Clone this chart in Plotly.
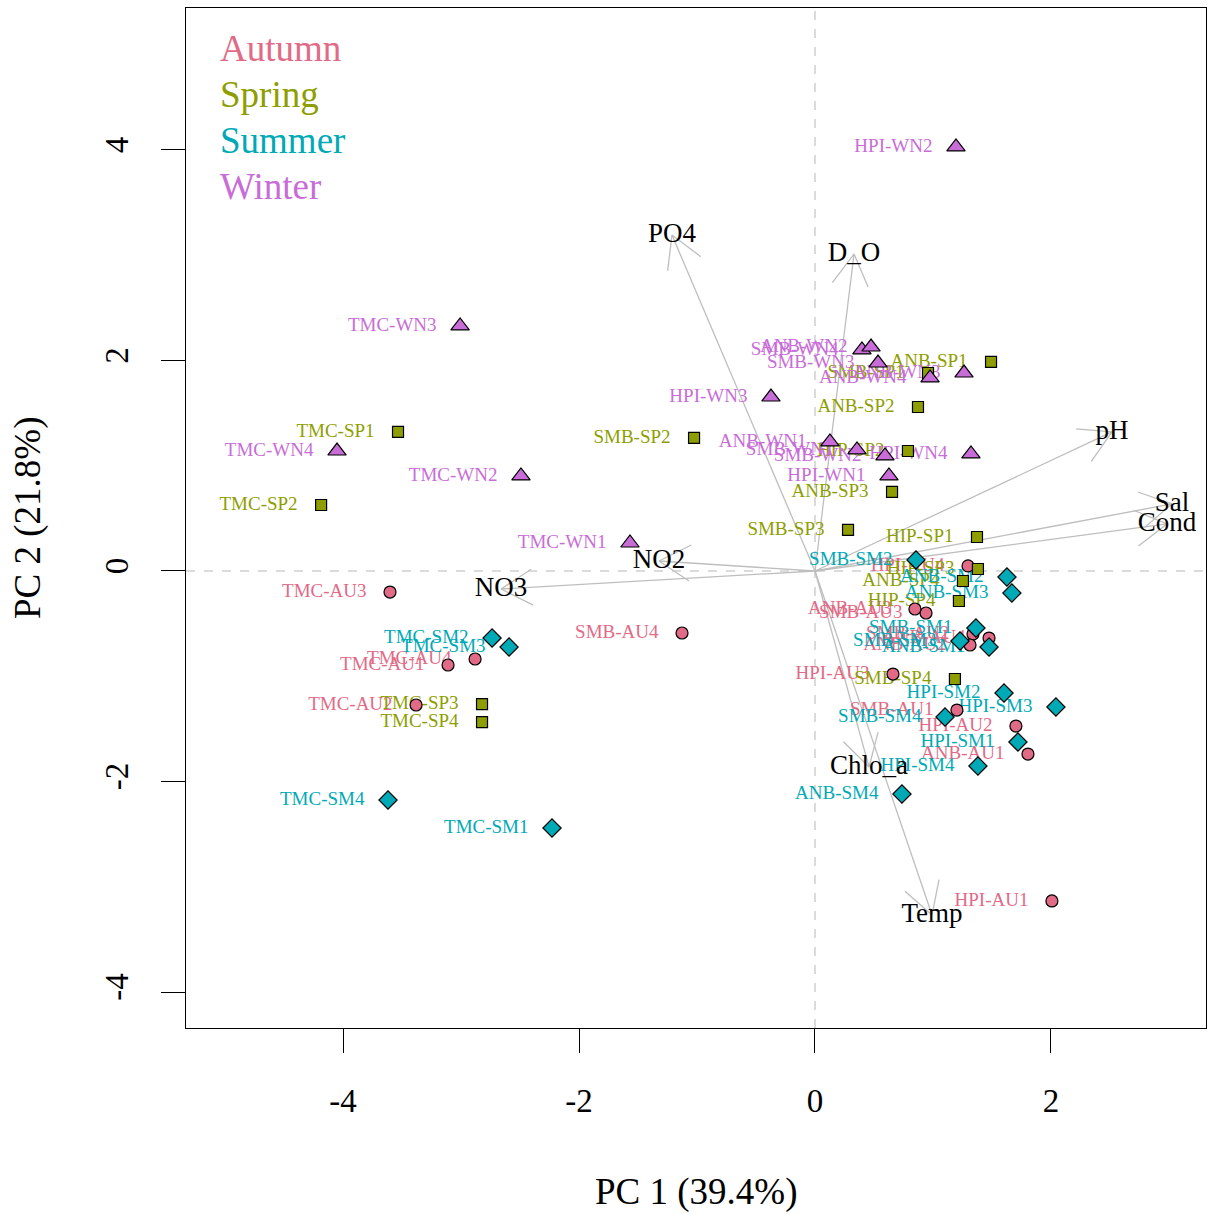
import math
import plotly.graph_objects as go

# ---- sample scores on the first two principal components ----
autumn_labels = ["TMC-AU1", "TMC-AU2", "TMC-AU3", "TMC-AU4", "SMB-AU1", "SMB-AU2", "SMB-AU3", "SMB-AU4",
                 "ANB-AU1", "ANB-AU2", "ANB-AU3", "ANB-AU4", "HPI-AU1", "HPI-AU2", "HPI-AU3", "HPI-AU4"]
autumn_pc1 = [-3.110, -3.381, -3.602, -2.881, 1.203, 1.339, 0.941, -1.127,
              1.805, 1.314, 0.847, 1.475, 2.008, 1.703, 0.661, 1.297]
autumn_pc2 = [-0.893, -1.273, -0.200, -0.836, -1.321, -0.599, -0.399, -0.589,
              -1.739, -0.703, -0.361, -0.637, -3.135, -1.473, -0.979, 0.048]

spring_labels = ["TMC-SP1", "TMC-SP2", "TMC-SP3", "TMC-SP4", "SMB-SP1", "SMB-SP2", "SMB-SP3", "SMB-SP4",
                 "ANB-SP1", "ANB-SP2", "ANB-SP3", "ANB-SP4", "HIP-SP1", "HIP-SP2", "HIP-SP3", "HIP-SP4"]
spring_pc1 = [-3.534, -4.186, -2.822, -2.822, 0.958, -1.025, 0.280, 1.186,
              1.492, 0.873, 0.653, 1.254, 1.373, 0.788, 1.381, 1.220]
spring_pc2 = [1.321, 0.627, -1.264, -1.435, 1.881, 1.264, 0.390, -1.026,
              1.986, 1.558, 0.751, -0.095, 0.323, 1.140, 0.019, -0.285]

summer_labels = ["TMC-SM1", "TMC-SM2", "TMC-SM3", "TMC-SM4", "SMB-SM1", "SMB-SM2", "SMB-SM3", "SMB-SM4",
                 "ANB-SM1", "ANB-SM2", "ANB-SM3", "ANB-SM4", "HPI-SM1", "HPI-SM2", "HPI-SM3", "HPI-SM4"]
summer_pc1 = [-2.229, -2.737, -2.593, -3.619, 1.364, 0.856, 1.229, 1.102,
              1.475, 1.627, 1.669, 0.737, 1.720, 1.602, 2.042, 1.381]
summer_pc2 = [-2.442, -0.637, -0.722, -2.176, -0.542, 0.105, -0.665, -1.387,
              -0.722, -0.057, -0.209, -2.119, -1.625, -1.159, -1.292, -1.853]

winter_labels = ["TMC-WN1", "TMC-WN2", "TMC-WN3", "TMC-WN4", "SMB-WN1", "SMB-WN2", "SMB-WN3", "SMB-WN4",
                 "ANB-WN1", "ANB-WN2", "ANB-WN3", "ANB-WN4", "HPI-WN1", "HPI-WN2", "HPI-WN3", "HPI-WN4"]
winter_pc1 = [-1.568, -2.492, -3.008, -4.051, 0.356, 0.593, 0.534, 0.398,
              0.127, 0.475, 1.263, 0.975, 0.627, 1.195, -0.373, 1.322]
winter_pc2 = [0.266, 0.903, 2.328, 1.140, 1.150, 1.093, 1.976, 2.100,
              1.226, 2.128, 1.881, 1.834, 0.903, 4.029, 1.653, 1.112]

# ---- variable loadings ----
var_names = ["PO4", "D_O", "pH", "Sal", "Cond", "NO2", "NO3", "Chlo_a", "Temp"]
var_pc1 = [-1.212, 0.331, 2.517, 3.025, 2.983, -1.322, -2.661, 0.458, 0.992]
var_pc2 = [3.192, 3.012, 1.321, 0.637, 0.447, 0.095, -0.171, -1.862, -3.268]

season_names = ["Autumn", "Spring", "Summer", "Winter"]
season_colors = ["#E16A86", "#8E9E00", "#00A9B6", "#C86DD7"]
season_symbols = ["circle", "square", "diamond", "triangle-up"]
season_sizes = [12, 11, 14, 16]

seasons = [
    (autumn_labels, autumn_pc1, autumn_pc2),
    (spring_labels, spring_pc1, spring_pc2),
    (summer_labels, summer_pc1, summer_pc2),
    (winter_labels, winter_pc1, winter_pc2),
]

XR = [-5.331, 3.314]
YR = [-4.342, 5.349]
W, H = 1208, 1214
ML, MR, MT, MB = 186, 2, 8, 186
PW, PH = W - ML - MR, H - MT - MB
SERIF = "Liberation Serif, Times New Roman, serif"

fig = go.Figure()

# loading arrows with open V heads
sx = PW / (XR[1] - XR[0])
sy = PH / (YR[1] - YR[0])
head_len, head_ang = 36.0, math.radians(30)
ax, ay = [], []
for lx, ly in zip(var_pc1, var_pc2):
    ax += [0, lx, None]
    ay += [0, ly, None]
    theta = math.atan2(ly * sy, lx * sx)
    for s in (1, -1):
        a = theta + math.pi + s * head_ang
        ex = lx + head_len * math.cos(a) / sx
        ey = ly + head_len * math.sin(a) / sy
        ax += [lx, ex, None]
        ay += [ly, ey, None]
fig.add_trace(go.Scatter(x=ax, y=ay, mode="lines",
                         line=dict(color="#BEBEBE", width=1.3),
                         hoverinfo="skip", showlegend=False))

# sample labels (to the left of each point)
for (labs, xs, ys), col in zip(seasons, season_colors):
    fig.add_trace(go.Scatter(
        x=xs, y=ys, text=labs, mode="markers+text", textposition="middle left",
        marker=dict(size=36, opacity=0),
        textfont=dict(family=SERIF, size=19, color=col),
        hoverinfo="skip", showlegend=False))

# variable names at the arrow tips
fig.add_trace(go.Scatter(
    x=var_pc1, y=var_pc2, text=var_names, mode="text", textposition="middle center",
    textfont=dict(family=SERIF, size=27, color="black"),
    hoverinfo="skip", showlegend=False))

# sample points
for (labs, xs, ys), name, col, sym, sz in zip(seasons, season_names, season_colors,
                                               season_symbols, season_sizes):
    fig.add_trace(go.Scatter(
        x=xs, y=ys, text=labs, mode="markers", name=name,
        marker=dict(symbol=sym, size=sz, color=col, line=dict(color="black", width=1.2)),
        showlegend=False))

# reference lines through the origin
line_style = dict(color="#CFCFCF", width=1.5, dash="dash")
fig.add_shape(type="line", xref="x", yref="paper", x0=0, x1=0, y0=0, y1=1, line=line_style, layer="below")
fig.add_shape(type="line", xref="paper", yref="y", x0=0, x1=1, y0=0, y1=0, line=line_style, layer="below")

# season legend as coloured text
for i, (name, col) in enumerate(zip(season_names, season_colors)):
    fig.add_annotation(xref="paper", yref="paper", x=(218 - ML) / PW, y=1 - (49 + 45.7 * i - MT) / PH,
                       text=name, showarrow=False, xanchor="left", yanchor="middle",
                       font=dict(family=SERIF, size=37, color=col))

# axis titles
fig.add_annotation(xref="paper", yref="paper", x=0.5, y=0, yshift=-(1192 - (H - MB)),
                   text="PC 1 (39.4%)", showarrow=False, xanchor="center", yanchor="middle",
                   font=dict(family=SERIF, size=37, color="black"))
fig.add_annotation(xref="paper", yref="paper", x=0, y=0.5, xshift=-(ML - 28),
                   text="PC 2 (21.8%)", showarrow=False, xanchor="center", yanchor="middle",
                   textangle=-90, font=dict(family=SERIF, size=37, color="black"))

axis_common = dict(showgrid=False, zeroline=False, showline=True, linecolor="black", linewidth=1.3,
                   mirror=True, ticks="outside", ticklen=24, tickwidth=1.3, tickcolor="black",
                   tickfont=dict(family=SERIF, size=33, color="black"))
fig.update_xaxes(range=XR, tickvals=[-4, -2, 0, 2], ticktext=["-4", "-2", "0", "2"],
                 ticklabelstandoff=19, **axis_common)
fig.update_yaxes(range=YR, tickvals=[-4, -2, 0, 2, 4], ticktext=["-4", "-2", "0", "2", "4"],
                 tickangle=-90, ticklabelstandoff=20, **axis_common)

fig.update_layout(width=W, height=H, margin=dict(l=ML, r=MR, t=MT, b=MB),
                  plot_bgcolor="white", paper_bgcolor="white", showlegend=False)

fig.write_html("out.html")
